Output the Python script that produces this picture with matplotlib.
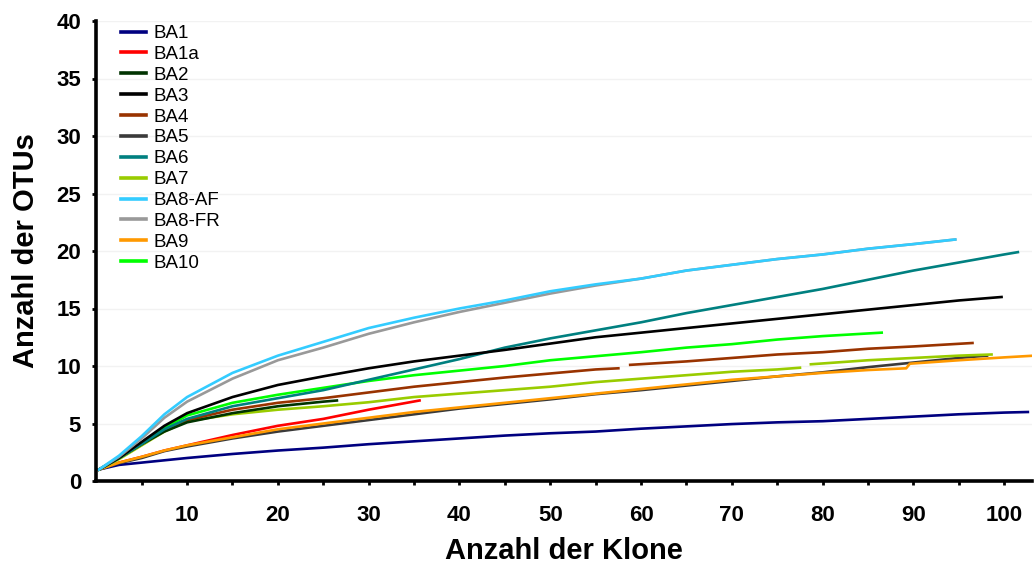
import numpy as np
import matplotlib
matplotlib.use('Agg')
import matplotlib.pyplot as plt

# rarefaction curves, values
ba1_x = [0.3, 2.5, 5, 7.5, 10, 15, 20, 25, 30, 35, 40, 45, 50, 55, 60, 65, 70, 75, 80, 85, 90, 95, 100, 102.6]
ba1_y = [1, 1.4, 1.6, 1.8, 2.0, 2.35, 2.65, 2.9, 3.2, 3.45, 3.7, 3.95, 4.15, 4.3, 4.55, 4.75, 4.95, 5.1, 5.2, 5.4, 5.6, 5.8, 5.95, 6.0]

ba1a_x = [0.3, 2.5, 5, 7.5, 10, 15, 20, 25, 30, 35.6]
ba1a_y = [1, 1.6, 2.1, 2.65, 3.1, 4.0, 4.8, 5.4, 6.2, 7.0]

ba2_x = [0.3, 2.5, 5, 7.5, 10, 15, 20, 25, 26.5]
ba2_y = [1, 2.0, 3.2, 4.3, 5.1, 5.9, 6.5, 6.9, 7.0]

ba3_x = [0.3, 2.5, 5, 7.5, 10, 15, 20, 25, 30, 35, 40, 45, 50, 55, 60, 65, 70, 75, 80, 85, 90, 95, 99.7]
ba3_y = [1, 2.0, 3.4, 4.8, 5.9, 7.3, 8.35, 9.1, 9.8, 10.4, 10.9, 11.4, 11.95, 12.5, 12.9, 13.3, 13.7, 14.1, 14.5, 14.9, 15.3, 15.7, 16.0]

# BA4 has a gap near 58 clones
ba4_x = [0.3, 2.5, 5, 7.5, 10, 15, 20, 25, 30, 35, 40, 45, 50, 55, 57.5, 58.2, 58.8, 65, 70, 75, 80, 85, 90, 96.5]
ba4_y = [1, 2.0, 3.2, 4.4, 5.3, 6.2, 6.8, 7.2, 7.7, 8.2, 8.6, 9.0, 9.35, 9.7, 9.8, np.nan, 10.1, 10.4, 10.7, 11.0, 11.2, 11.5, 11.7, 12.0]

ba5_x = [0.3, 2.5, 5, 7.5, 10, 15, 20, 25, 30, 35, 40, 45, 50, 55, 60, 65, 70, 75, 80, 85, 90, 95, 98.1]
ba5_y = [1, 1.55, 2.0, 2.6, 3.0, 3.7, 4.3, 4.8, 5.3, 5.8, 6.3, 6.7, 7.1, 7.55, 7.9, 8.3, 8.7, 9.1, 9.45, 9.9, 10.3, 10.7, 10.9]

ba6_x = [0.3, 2.5, 5, 7.5, 10, 15, 20, 25, 30, 35, 40, 45, 50, 55, 60, 65, 70, 75, 80, 85, 90, 95, 100, 101.5]
ba6_y = [1, 2.0, 3.2, 4.5, 5.4, 6.5, 7.2, 7.9, 8.8, 9.7, 10.6, 11.6, 12.4, 13.1, 13.8, 14.6, 15.3, 16.0, 16.7, 17.5, 18.3, 19.0, 19.7, 19.9]

# BA7 has a gap near 78 clones
ba7_x = [0.3, 2.5, 5, 7.5, 10, 15, 20, 25, 30, 35, 40, 45, 50, 55, 60, 65, 70, 75, 77.5, 78.1, 78.7, 85, 90, 95, 98.6]
ba7_y = [1, 1.9, 3.1, 4.3, 5.2, 5.8, 6.2, 6.5, 6.85, 7.3, 7.6, 7.9, 8.2, 8.6, 8.9, 9.2, 9.5, 9.7, 9.85, np.nan, 10.15, 10.5, 10.7, 10.9, 11.0]

ba8af_x = [0.3, 2.5, 5, 7.5, 10, 15, 20, 25, 30, 35, 40, 45, 50, 55, 60, 65, 70, 75, 80, 85, 90, 94.6]
ba8af_y = [1, 2.2, 3.9, 5.8, 7.3, 9.4, 10.9, 12.1, 13.3, 14.2, 15.0, 15.7, 16.5, 17.1, 17.6, 18.3, 18.8, 19.3, 19.7, 20.2, 20.6, 21.0]

ba8fr_x = [0.3, 2.5, 5, 7.5, 10, 15, 20, 25, 30, 35, 40, 45, 50, 55, 60, 65, 70, 75, 80, 85, 90, 94.6]
ba8fr_y = [1, 2.1, 3.7, 5.5, 6.9, 8.9, 10.5, 11.6, 12.8, 13.8, 14.7, 15.5, 16.3, 17.0, 17.6, 18.3, 18.8, 19.3, 19.7, 20.2, 20.6, 21.0]

ba9_x = [0.3, 2.5, 5, 7.5, 10, 15, 20, 25, 30, 35, 40, 45, 50, 55, 60, 65, 70, 75, 80, 85, 89.2, 89.6, 95, 100, 103.3]
ba9_y = [1, 1.6, 2.1, 2.65, 3.1, 3.8, 4.5, 5.0, 5.5, 6.0, 6.4, 6.8, 7.2, 7.6, 8.0, 8.4, 8.8, 9.1, 9.4, 9.65, 9.8, 10.2, 10.5, 10.75, 10.9]

ba10_x = [0.3, 2.5, 5, 7.5, 10, 15, 20, 25, 30, 35, 40, 45, 50, 55, 60, 65, 70, 75, 80, 86.5]
ba10_y = [1, 2.0, 3.3, 4.6, 5.7, 6.8, 7.5, 8.1, 8.7, 9.2, 9.6, 10.0, 10.5, 10.85, 11.2, 11.6, 11.9, 12.3, 12.6, 12.9]

labels = ['BA1', 'BA1a', 'BA2', 'BA3', 'BA4', 'BA5', 'BA6', 'BA7', 'BA8-AF', 'BA8-FR', 'BA9', 'BA10']
colors = ['#000080', '#FF0000', '#003300', '#000000', '#993300', '#3a3a3a',
          '#008080', '#99CC00', '#33CCFF', '#999999', '#FF9900', '#00FF00']
series = [(ba1_x, ba1_y), (ba1a_x, ba1a_y), (ba2_x, ba2_y), (ba3_x, ba3_y), (ba4_x, ba4_y),
          (ba5_x, ba5_y), (ba6_x, ba6_y), (ba7_x, ba7_y), (ba8af_x, ba8af_y), (ba8fr_x, ba8fr_y),
          (ba9_x, ba9_y), (ba10_x, ba10_y)]

plt.rcParams['font.family'] = ['Liberation Sans', 'DejaVu Sans']

fig = plt.figure(figsize=(10.34, 5.67), dpi=100)
ax = fig.add_axes([96.3 / 1034, 86 / 567, (1031.5 - 96.3) / 1034, 460 / 567])

# draw order so the grey BA8-FR sits under the cyan BA8-AF early on
order = [0, 1, 5, 10, 7, 4, 2, 11, 6, 3, 9, 8]
handles = [None] * len(labels)
for i in order:
    x, y = series[i]
    line, = ax.plot(x, y, color=colors[i], lw=1.9, label=labels[i])
    handles[i] = line

ax.set_xlim(0, 103)
ax.set_ylim(0, 40)
ax.set_xticks(np.arange(5, 101, 5))
ax.set_xticklabels([str(v) if v % 10 == 0 else '' for v in range(5, 101, 5)])
ax.set_yticks(np.arange(0, 41, 5))
ax.yaxis.grid(True, color='#f2f2f2', lw=1)
ax.set_axisbelow(True)

for s in ['top', 'right']:
    ax.spines[s].set_visible(False)
for s in ['left', 'bottom']:
    ax.spines[s].set_linewidth(2.6)
    ax.spines[s].set_color('black')

ax.tick_params(axis='both', direction='out', length=3, width=2, labelsize=16)
ax.tick_params(axis='x', pad=14)
ax.tick_params(axis='y', pad=8)
for t in ax.get_xticklabels() + ax.get_yticklabels():
    t.set_fontweight('bold')

ax.set_xlabel('Anzahl der Klone', fontsize=21, fontweight='bold', labelpad=8)
ax.set_ylabel('Anzahl der OTUs', fontsize=21, fontweight='bold', labelpad=12)

leg = ax.legend(handles=handles, labels=labels, loc='upper left',
                bbox_to_anchor=(121 / 1034, 1 - 25 / 567), bbox_transform=fig.transFigure,
                frameon=False, fontsize=13.5, handlelength=1.35, handletextpad=0.4,
                labelspacing=0.2, borderpad=0, borderaxespad=0)
for h in leg.get_lines():
    h.set_linewidth(2.6)

fig.savefig('out.png', dpi=100)
